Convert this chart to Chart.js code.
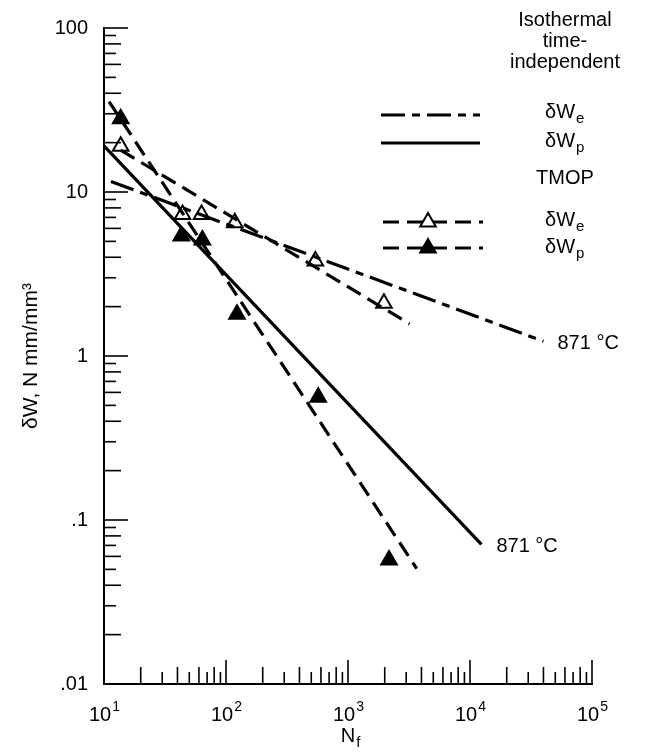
<!DOCTYPE html>
<html>
<head>
<meta charset="utf-8">
<script src="https://cdn.jsdelivr.net/npm/chart.js@4.4.1/dist/chart.umd.min.js"></script>
<style>
  html, body { margin: 0; padding: 0; background: #fff; }
  #wrap { width: 645px; height: 753px; position: relative; }
</style>
</head>
<body>
<div id="wrap"><canvas id="fig"></canvas></div>
<script>
// TMOP test points (open = elastic, filled = plastic)
const tmopWeN = [13.7, 44, 63, 118, 540, 1970];
const tmopWe  = [19, 7.3, 7.3, 6.5, 3.8, 2.1];
const tmopWpN = [13.7, 43, 64, 123, 570, 2170];
const tmopWp  = [28, 5.4, 5.1, 1.8, 0.56, 0.057];

// fitted lines (end points)
const isoWeN = [11.4, 40000];
const isoWe  = [11.6, 1.23];
const isoWpN = [10, 12400];
const isoWp  = [19.1, 0.071];
const tmopWeFitN = [13.7, 3200];
const tmopWeFit  = [18, 1.57];
const tmopWpFitN = [11, 3660];
const tmopWpFit  = [35.6, 0.0505];

// axis labels
const yTickLabels = ['.01', '.1', '1', '10', '100'];
const xExponents = ['1', '2', '3', '4', '5'];
const tempLabel = '871 °C';

const FONT = "'Liberation Sans', Arial, Helvetica, sans-serif";
Chart.defaults.font.family = FONT;
Chart.defaults.color = '#000';

const pts = (xs, ys) => xs.map((x, i) => ({ x: x, y: ys[i] }));

const DASH_DOT = [24, 7, 8, 7];
const DASH = [16, 8];

function tickLen(k) {
  if (k === 1) return 24;
  return k % 2 === 0 ? 17 : 12;
}

function subText(ctx, main, sub, x, y, size, align) {
  ctx.fillStyle = '#000';
  ctx.font = size + 'px ' + FONT;
  const w1 = ctx.measureText(main).width;
  ctx.font = Math.round(size * 0.75) + 'px ' + FONT;
  const w2 = ctx.measureText(sub).width;
  let x0 = x;
  if (align === 'center') x0 = x - (w1 + w2) / 2;
  ctx.textAlign = 'left';
  ctx.textBaseline = 'middle';
  ctx.font = size + 'px ' + FONT;
  ctx.fillText(main, x0, y);
  ctx.font = Math.round(size * 0.75) + 'px ' + FONT;
  ctx.fillText(sub, x0 + w1 + 1, y + 7);
}

function supText(ctx, main, sup, x, y, size) {
  ctx.fillStyle = '#000';
  ctx.font = size + 'px ' + FONT;
  const w1 = ctx.measureText(main).width;
  ctx.font = Math.round(size * 0.72) + 'px ' + FONT;
  const w2 = ctx.measureText(sup).width;
  const x0 = x - (w1 + w2) / 2;
  ctx.textAlign = 'left';
  ctx.textBaseline = 'middle';
  ctx.font = size + 'px ' + FONT;
  ctx.fillText(main, x0, y);
  ctx.font = Math.round(size * 0.72) + 'px ' + FONT;
  ctx.fillText(sup, x0 + w1 + 1, y - 8);
}

function triangle(ctx, x, y, r, filled) {
  ctx.beginPath();
  ctx.moveTo(x, y - r);
  ctx.lineTo(x + Math.sin(2 * Math.PI / 3) * r, y + r / 2);
  ctx.lineTo(x - Math.sin(2 * Math.PI / 3) * r, y + r / 2);
  ctx.closePath();
  ctx.fillStyle = filled ? '#000' : '#fff';
  ctx.fill();
  ctx.lineWidth = 2;
  ctx.strokeStyle = '#000';
  ctx.stroke();
  ctx.fillStyle = '#000';
}

function legendLine(ctx, x1, x2, y, dash) {
  ctx.save();
  ctx.beginPath();
  ctx.setLineDash(dash);
  ctx.lineWidth = 3;
  ctx.strokeStyle = '#000';
  ctx.moveTo(x1, y);
  ctx.lineTo(x2, y);
  ctx.stroke();
  ctx.restore();
}

function centerText(ctx, txt, x, y, size) {
  ctx.fillStyle = '#000';
  ctx.font = size + 'px ' + FONT;
  ctx.textAlign = 'center';
  ctx.textBaseline = 'middle';
  ctx.fillText(txt, x, y);
}

const decor = {
  id: 'decor',
  afterDraw(chart) {
    const ctx = chart.ctx;
    const xs = chart.scales.x, ys = chart.scales.y;
    const area = chart.chartArea;
    ctx.save();
    ctx.strokeStyle = '#000';
    ctx.lineWidth = 1.6;

    // inward ticks on y axis
    for (let d = -2; d <= 2; d++) {
      for (let k = 1; k <= 9; k++) {
        const v = k * Math.pow(10, d);
        if (v > 100.0001) break;
        if (d === -2 && k === 1) continue;
        const py = ys.getPixelForValue(v);
        ctx.beginPath();
        ctx.moveTo(area.left, py);
        ctx.lineTo(area.left + tickLen(k), py);
        ctx.stroke();
      }
    }
    // inward ticks on x axis
    for (let d = 1; d <= 5; d++) {
      for (let k = 1; k <= 9; k++) {
        const v = k * Math.pow(10, d);
        if (v > 100000.1) break;
        if (d === 1 && k === 1) continue;
        const px = xs.getPixelForValue(v);
        ctx.beginPath();
        ctx.moveTo(px, area.bottom);
        ctx.lineTo(px, area.bottom - tickLen(k));
        ctx.stroke();
      }
    }

    // x tick labels 10^n
    xExponents.forEach((e) => {
      const px = xs.getPixelForValue(Math.pow(10, Number(e)));
      supText(ctx, '10', e, px, area.bottom + 31, 20);
    });
    // x title
    subText(ctx, 'N', 'f', 350, 736, 20, 'center');

    // temperature labels at line ends
    ctx.fillStyle = '#000';
    ctx.font = '20px ' + FONT;
    ctx.textAlign = 'left';
    ctx.textBaseline = 'middle';
    const eWe = chart.getDatasetMeta(0).data[1];
    const eWp = chart.getDatasetMeta(1).data[1];
    ctx.fillText(tempLabel, eWe.x + 14, eWe.y + 2);
    ctx.fillText(tempLabel, eWp.x + 15, eWp.y + 2);

    // legend
    centerText(ctx, 'Isothermal', 565, 20, 20);
    centerText(ctx, 'time-', 565, 41, 20);
    centerText(ctx, 'independent', 565, 62, 20);
    legendLine(ctx, 381, 480, 115, DASH_DOT);
    subText(ctx, '\u03b4W', 'e', 545, 112, 20, 'left');
    legendLine(ctx, 381, 480, 143, []);
    subText(ctx, '\u03b4W', 'p', 545, 141, 20, 'left');
    centerText(ctx, 'TMOP', 565, 178, 20);
    legendLine(ctx, 383, 483, 222, DASH);
    triangle(ctx, 428, 222, 9, false);
    subText(ctx, '\u03b4W', 'e', 545, 220, 20, 'left');
    legendLine(ctx, 383, 483, 248, DASH);
    triangle(ctx, 428, 248, 9, true);
    subText(ctx, '\u03b4W', 'p', 545, 247, 20, 'left');
    ctx.restore();
  }
};

const lineSet = (data, dash) => ({
  data: data, showLine: true, borderColor: '#000', borderWidth: 3.2,
  borderDash: dash, pointRadius: 0, fill: false
});

new Chart(document.getElementById('fig'), {
  type: 'scatter',
  data: {
    datasets: [
      lineSet(pts(isoWeN, isoWe), DASH_DOT),
      lineSet(pts(isoWpN, isoWp), []),
      lineSet(pts(tmopWeFitN, tmopWeFit), DASH),
      lineSet(pts(tmopWpFitN, tmopWpFit), DASH),
      {
        data: pts(tmopWeN, tmopWe), pointStyle: 'triangle', pointRadius: 9,
        backgroundColor: '#fff', borderColor: '#000', borderWidth: 2
      },
      {
        data: pts(tmopWpN, tmopWp), pointStyle: 'triangle', pointRadius: 9,
        backgroundColor: '#000', borderColor: '#000', borderWidth: 2
      }
    ]
  },
  options: {
    responsive: true,
    maintainAspectRatio: false,
    animation: false,
    layout: { padding: { top: 19, right: 53, left: 0, bottom: 0 } },
    plugins: { legend: { display: false }, tooltip: { enabled: false } },
    scales: {
      x: {
        type: 'logarithmic', min: 10, max: 100000,
        grid: { display: false, drawTicks: false },
        border: { display: true, color: '#000', width: 2 },
        ticks: { display: false },
        afterFit: (s) => { s.height = 69; }
      },
      y: {
        type: 'logarithmic', min: 0.01, max: 100,
        grid: { display: false, drawTicks: false },
        border: { display: true, color: '#000', width: 2 },
        ticks: {
          autoSkip: false, padding: 16,
          font: { size: 20 },
          callback: (v) => {
            const l = Math.log10(v);
            return Math.abs(l - Math.round(l)) < 1e-6 ? yTickLabels[Math.round(l) + 2] : '';
          }
        },
        title: {
          display: true, text: '\u03b4W, N mm/mm\u00b3',
          font: { size: 21 }, padding: { top: 19 }
        },
        afterFit: (s) => { s.width = 104; }
      }
    }
  },
  plugins: [decor]
});
</script>
</body>
</html>
